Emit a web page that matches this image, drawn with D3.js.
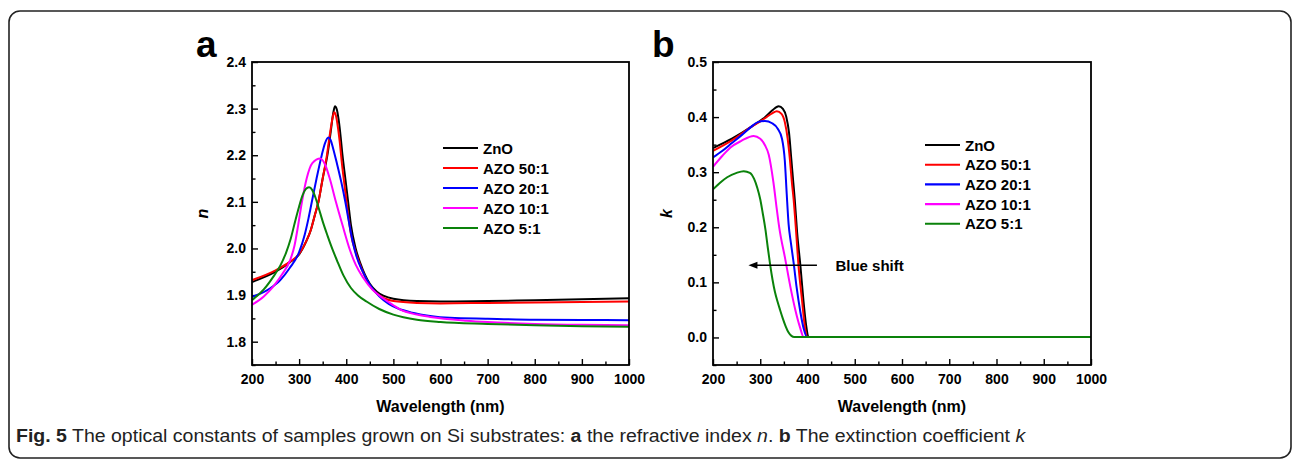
<!DOCTYPE html>
<html>
<head>
<meta charset="utf-8">
<script src="https://cdn.jsdelivr.net/npm/d3@7"></script>
<style>
  html, body { margin: 0; padding: 0; background: #fff; }
  svg { display: block; }
  text { font-family: "Liberation Sans", Arial, sans-serif; }
</style>
</head>
<body>
<svg id="chart" width="1295" height="465"></svg>
<script>
// ---------- DATA ----------
const seriesNames = ["ZnO", "AZO 50:1", "AZO 20:1", "AZO 10:1", "AZO 5:1"];
const seriesColors = ["#000000", "#ff0000", "#0000ff", "#ff00ff", "#0a820a"];

const xTicks = [200, 300, 400, 500, 600, 700, 800, 900, 1000];
const nTicks = [1.8, 1.9, 2.0, 2.1, 2.2, 2.3, 2.4];
const kTicks = [0.0, 0.1, 0.2, 0.3, 0.4, 0.5];

// panel a: refractive index n  [wavelength nm, n]
const nZnO = [[200,1.928],[250,1.950],[280,1.970],[300,1.987],[315,2.015],[325,2.040],[333,2.070],[341,2.100],[350,2.150],[360,2.200],[367,2.250],[372,2.288],[376,2.305],[380,2.298],[384,2.275],[387,2.250],[392,2.200],[398,2.150],[404,2.100],[410,2.050],[420,2.000],[430,1.968],[450,1.924],[465,1.907],[480,1.898],[500,1.892],[550,1.887],[600,1.886],[700,1.887],[800,1.889],[900,1.891],[1000,1.893]];
const n50 = [[200,1.932],[250,1.953],[280,1.971],[300,1.988],[315,2.015],[325,2.040],[333,2.070],[341,2.100],[350,2.150],[359,2.200],[366,2.250],[371,2.280],[374.5,2.292],[378,2.285],[382,2.262],[386,2.230],[391,2.180],[397,2.130],[403,2.080],[410,2.030],[420,1.992],[430,1.963],[450,1.920],[465,1.903],[480,1.893],[500,1.887],[550,1.883],[600,1.882],[700,1.883],[800,1.884],[900,1.885],[1000,1.886]];
const n20 = [[200,1.896],[238,1.914],[260,1.932],[280,1.958],[300,1.992],[312,2.030],[320,2.065],[327,2.100],[337,2.150],[348,2.200],[355,2.226],[362,2.238],[367,2.232],[372,2.215],[380,2.183],[390,2.140],[398,2.100],[406,2.055],[414,2.013],[422,1.982],[435,1.950],[450,1.922],[470,1.897],[490,1.881],[510,1.871],[540,1.862],[578,1.855],[620,1.851],[700,1.849],[800,1.847],[900,1.8465],[1000,1.846]];
const n10 = [[200,1.879],[225,1.897],[245,1.918],[265,1.946],[281,1.975],[290,2.005],[298,2.050],[306,2.100],[316,2.150],[328,2.183],[345,2.193],[355,2.180],[365,2.150],[378,2.100],[392,2.050],[408,1.996],[420,1.965],[436,1.937],[455,1.912],[478,1.893],[500,1.878],[514,1.869],[550,1.858],[578,1.853],[655,1.845],[700,1.842],[800,1.838],[900,1.836],[1000,1.835]];
const n5 = [[200,1.889],[225,1.912],[245,1.939],[260,1.963],[272,1.990],[282,2.020],[292,2.060],[300,2.090],[307,2.113],[314,2.127],[321,2.131],[328,2.125],[335,2.108],[342,2.085],[350,2.058],[360,2.028],[370,2.000],[380,1.975],[394,1.942],[410,1.915],[425,1.899],[443,1.886],[470,1.870],[500,1.858],[550,1.847],[600,1.842],[700,1.838],[800,1.835],[900,1.833],[1000,1.832]];

// panel b: extinction coefficient k  [wavelength nm, k]
const kZnO = [[200,0.343],[240,0.360],[280,0.381],[310,0.399],[325,0.411],[339,0.419],[348,0.414],[355,0.400],[361,0.370],[366,0.320],[370,0.280],[373,0.250],[378,0.190],[385,0.129],[391,0.070],[397,0.022],[402,0.000],[450,0.000],[1000,0.000]];
const k50 = [[200,0.338],[240,0.357],[280,0.381],[310,0.397],[325,0.406],[335,0.410],[345,0.405],[352,0.390],[358,0.360],[363,0.320],[367,0.280],[370.6,0.250],[376,0.190],[381,0.129],[388,0.070],[395,0.015],[400,0.000],[450,0.000],[1000,0.000]];
const k20 = [[200,0.326],[220,0.338],[240,0.352],[260,0.366],[280,0.381],[295,0.390],[310,0.392],[325,0.388],[337,0.378],[346,0.360],[352,0.320],[356,0.260],[360,0.205],[365,0.170],[370.6,0.135],[377,0.090],[385,0.045],[392,0.015],[399,0.000],[450,0.000],[1000,0.000]];
const k10 = [[200,0.309],[220,0.329],[237,0.344],[260,0.356],[286,0.365],[300,0.360],[310,0.348],[318,0.331],[328,0.280],[335,0.232],[340,0.200],[353,0.141],[364,0.090],[374,0.050],[384,0.018],[392,0.000],[450,0.000],[1000,0.000]];
const k5 = [[200,0.268],[215,0.280],[230,0.290],[250,0.298],[265,0.301],[278,0.298],[287,0.287],[294,0.270],[300,0.250],[305,0.226],[311,0.195],[316,0.162],[321,0.131],[326,0.104],[331,0.082],[337,0.063],[342,0.049],[348,0.033],[354,0.019],[360,0.008],[366,0.002],[372,0.000],[450,0.000],[1000,0.000]];

const nSeries = [nZnO, n50, n20, n10, n5];
const kSeries = [kZnO, k50, k20, k10, k5];

// ---------- DRAW ----------
const svg = d3.select("#chart");

// outer rounded frame
svg.append("rect")
  .attr("x", 9).attr("y", 11).attr("width", 1282).attr("height", 447)
  .attr("rx", 11).attr("ry", 11)
  .attr("fill", "none").attr("stroke", "#222").attr("stroke-width", 1.6);

function panel(opts) {
  const x = d3.scaleLinear().domain([200, 1000]).range([opts.left, opts.right]);
  const y = d3.scaleLinear().domain(opts.yDomain).range([opts.bottom, opts.top]);
  const g = svg.append("g");

  // minor ticks
  const xMinor = d3.range(250, 1000, 100);
  g.append("g").attr("transform", `translate(0,${opts.bottom})`)
    .call(d3.axisBottom(x).tickValues(xMinor).tickSize(-3.5).tickFormat(""))
    .call(s => s.select(".domain").remove())
    .call(s => s.selectAll("line").attr("stroke", "#000").attr("stroke-width", 1.4));
  g.append("g").attr("transform", `translate(${opts.left},0)`)
    .call(d3.axisLeft(y).tickValues(opts.yMinor).tickSize(-3.5).tickFormat(""))
    .call(s => s.select(".domain").remove())
    .call(s => s.selectAll("line").attr("stroke", "#000").attr("stroke-width", 1.4));

  // major ticks
  g.append("g").attr("transform", `translate(0,${opts.bottom})`)
    .call(d3.axisBottom(x).tickValues(xTicks).tickSize(-6).tickPadding(9).tickFormat(d3.format("d")))
    .call(s => s.select(".domain").remove())
    .call(s => s.selectAll("line").attr("stroke", "#000").attr("stroke-width", 1.4))
    .call(s => s.selectAll("text").attr("font-size", 14).attr("font-weight", "bold")
      .attr("fill", "#000").attr("font-family", "Liberation Sans, Arial, sans-serif"));
  g.append("g").attr("transform", `translate(${opts.left},0)`)
    .call(d3.axisLeft(y).tickValues(opts.yTicks).tickSize(-6).tickPadding(6).tickFormat(d3.format(".1f")))
    .call(s => s.select(".domain").remove())
    .call(s => s.selectAll("line").attr("stroke", "#000").attr("stroke-width", 1.4))
    .call(s => s.selectAll("text").attr("font-size", 14).attr("font-weight", "bold")
      .attr("fill", "#000").attr("font-family", "Liberation Sans, Arial, sans-serif"));

  // clip + lines
  const clipId = "clip" + opts.letter;
  svg.append("clipPath").attr("id", clipId).append("rect")
    .attr("x", opts.left).attr("y", opts.top)
    .attr("width", opts.right - opts.left).attr("height", opts.bottom - opts.top);
  const line = d3.line().x(d => x(d[0])).y(d => y(d[1])).curve(d3.curveMonotoneX);
  // small offset so the flat zero line sits on whole pixels (crisp top colour)
  const snap = Math.round(y(opts.snapValue)) - y(opts.snapValue);
  g.append("g").attr("clip-path", `url(#${clipId})`)
    .append("g").attr("transform", `translate(0,${snap})`)
    .selectAll("path").data(opts.series).join("path")
    .attr("d", line)
    .attr("fill", "none")
    .attr("stroke", (d, i) => seriesColors[i])
    .attr("stroke-width", 2)
    .attr("stroke-linejoin", "round");

  // frame
  g.append("rect")
    .attr("x", opts.left).attr("y", opts.top)
    .attr("width", opts.right - opts.left).attr("height", opts.bottom - opts.top)
    .attr("fill", "none").attr("stroke", "#000").attr("stroke-width", 1.8);

  // axis titles
  g.append("text")
    .attr("x", (opts.left + opts.right) / 2).attr("y", 412)
    .attr("text-anchor", "middle").attr("font-size", 16).attr("font-weight", "bold")
    .text("Wavelength (nm)");
  g.append("text")
    .attr("transform", `translate(${opts.yLabelX},${(opts.top + opts.bottom) / 2}) rotate(-90)`)
    .attr("text-anchor", "middle").attr("font-size", 16).attr("font-weight", "bold")
    .attr("font-style", "italic")
    .text(opts.yLabel);

  // panel letter
  g.append("text")
    .attr("x", opts.letterX).attr("y", 57)
    .attr("font-size", 37).attr("font-weight", "bold")
    .text(opts.letter);

  // legend
  const lg = g.append("g");
  seriesNames.forEach((name, i) => {
    const yy = opts.legendY + i * opts.legendStep;
    lg.append("line")
      .attr("x1", opts.legendX).attr("x2", opts.legendX + 35)
      .attr("y1", yy).attr("y2", yy)
      .attr("stroke", seriesColors[i]).attr("stroke-width", 2.1);
    lg.append("text")
      .attr("x", opts.legendX + 40).attr("y", yy + 5.5)
      .attr("font-size", 15).attr("font-weight", "bold")
      .text(name);
  });
  return { x, y, g };
}

panel({
  letter: "a", letterX: 196,
  left: 252, right: 629, top: 62, bottom: 365,
  yDomain: [1.75, 2.4], yTicks: nTicks, snapValue: 1.9,
  yMinor: [1.75, 1.85, 1.95, 2.05, 2.15, 2.25, 2.35],
  series: nSeries, yLabel: "n", yLabelX: 208,
  legendX: 443, legendY: 148, legendStep: 20
});

const pb = panel({
  letter: "b", letterX: 652,
  left: 713, right: 1091, top: 62, bottom: 365,
  yDomain: [-0.05, 0.5], yTicks: kTicks, snapValue: 0,
  yMinor: [-0.05, 0.05, 0.15, 0.25, 0.35, 0.45],
  series: kSeries, yLabel: "k", yLabelX: 672,
  legendX: 925, legendY: 145, legendStep: 19.7
});

// Blue shift annotation (arrow pointing to shorter wavelengths)
const arrowY = pb.y(0.131);
const ax0 = pb.x(420), ax1 = pb.x(275);
pb.g.append("line")
  .attr("x1", ax0).attr("x2", ax1 + 6).attr("y1", arrowY).attr("y2", arrowY)
  .attr("stroke", "#000").attr("stroke-width", 1.5);
pb.g.append("path")
  .attr("d", `M${ax1},${arrowY} L${ax1 + 9},${arrowY - 3.5} L${ax1 + 9},${arrowY + 3.5} Z`)
  .attr("fill", "#000");
pb.g.append("text")
  .attr("x", pb.x(459)).attr("y", arrowY + 5.5)
  .attr("font-size", 15).attr("font-weight", "bold")
  .text("Blue shift");

// Caption
const cap = svg.append("text")
  .attr("font-family", "Liberation Sans Narrow, Liberation Sans, sans-serif")
  .attr("font-size", 18.5).attr("fill", "#222");
const parts = [
  ["Fig. 5", "bold", "normal"],
  [" The optical constants of samples grown on Si substrates: ", "normal", "normal"],
  ["a", "bold", "normal"],
  [" the refractive index ", "normal", "normal"],
  ["n", "normal", "italic"],
  [". ", "normal", "normal"],
  ["b", "bold", "normal"],
  [" The extinction coefficient ", "normal", "normal"],
  ["k", "normal", "italic"]
];
parts.forEach(p => cap.append("tspan").attr("font-weight", p[1]).attr("font-style", p[2]).text(p[0]));
const w = cap.node().getComputedTextLength();
const sx = 1010 / w;
cap.attr("transform", `translate(16,442) scale(${sx},1)`);
</script>
</body>
</html>
